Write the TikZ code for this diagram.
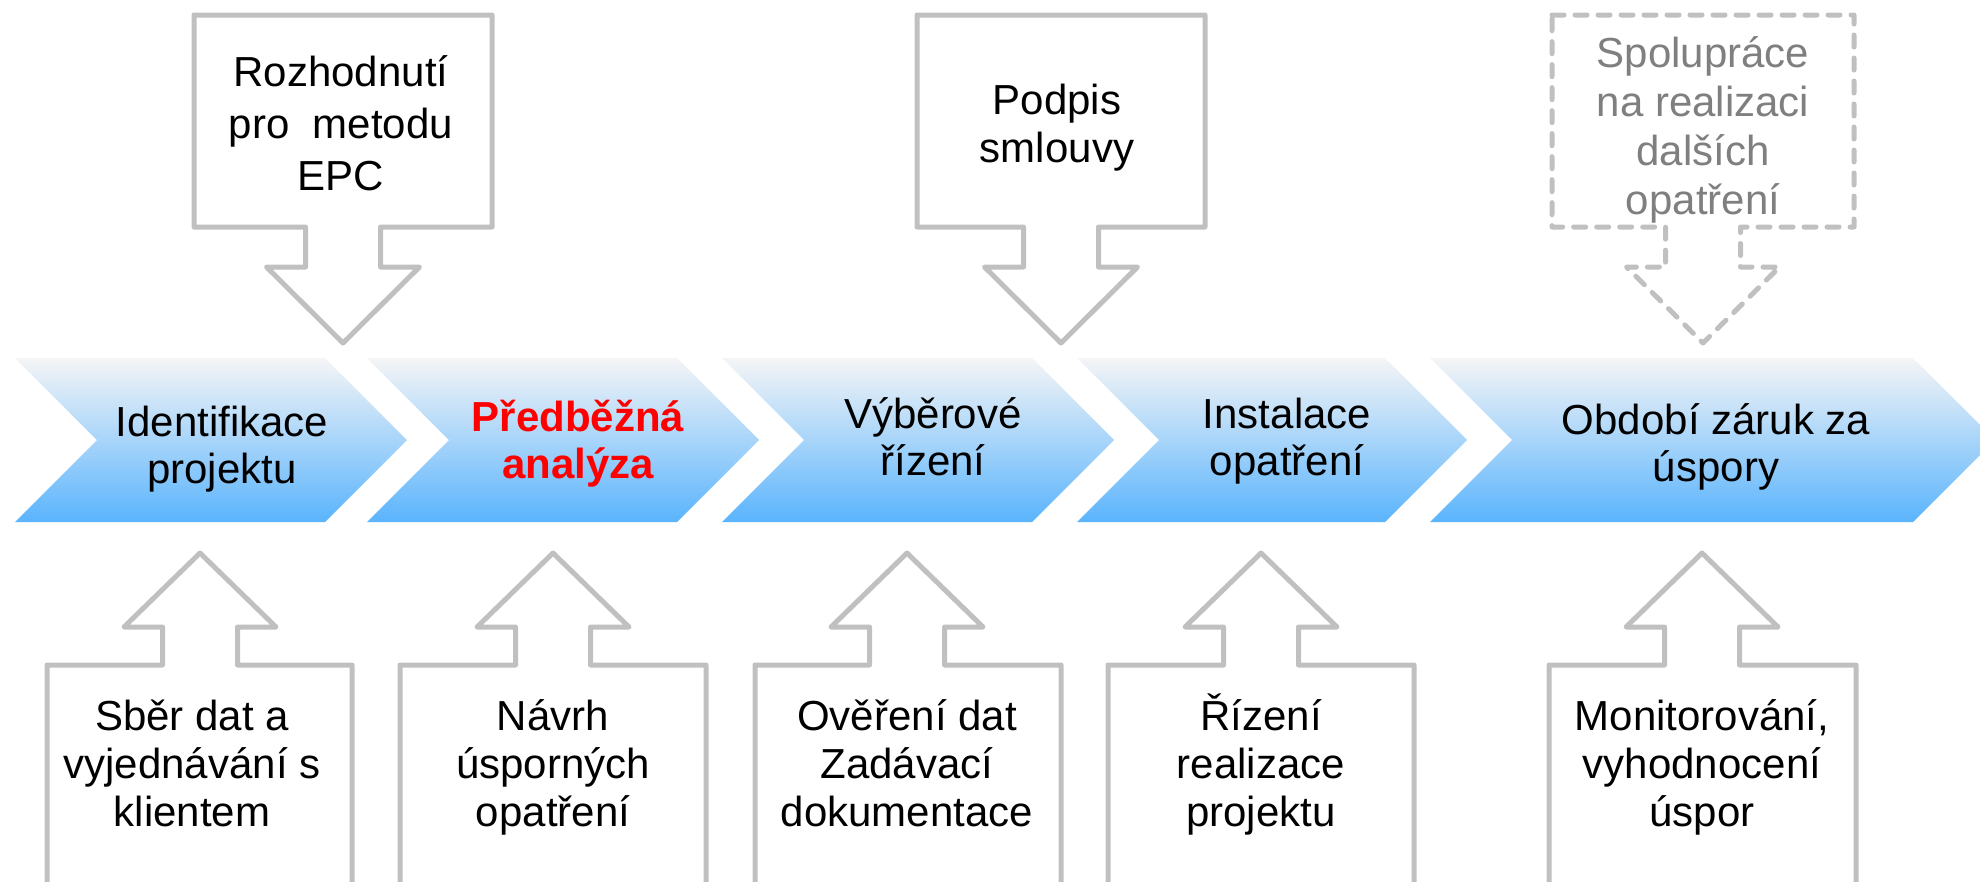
\documentclass[tikz,border=0pt]{standalone}
\usepackage{fontspec}
\setmainfont{Liberation Sans}
\definecolor{lineg}{RGB}{192,192,192}
\definecolor{txtg}{RGB}{127,127,127}
\definecolor{chtop}{RGB}{245,245,246}
\definecolor{chmid}{RGB}{192,223,249}
\definecolor{chbot}{RGB}{90,180,253}
\newcommand\tS{\rule{0pt}{1em}}
\newcommand\bS{\rule[-.25em]{0pt}{.25em}}
\begin{document}
\begin{tikzpicture}[x=1pt,y=-1pt,
  chev/.style={top color=chtop, middle color=chmid, bottom color=chbot, draw=none},
  callout/.style={draw=lineg, line width=5pt, line join=round, fill=white},
  dcallout/.style={callout, dash pattern=on 12pt off 11pt, line cap=round},
  chtext/.style={font=\fontsize{42}{47}\selectfont, align=center, inner sep=0pt},
  rdtext/.style={font={\fontsize{42}{47}\selectfont\bfseries}, text=red, align=center, inner sep=0pt},
  bxtext/.style={font=\fontsize{42}{48}\selectfont, align=center, inner sep=0pt},
  tptext/.style={font=\fontsize{42}{52}\selectfont, align=center, inner sep=0pt},
  gytext/.style={font=\fontsize{42}{49}\selectfont, align=center, inner sep=0pt, text=txtg},
]
\useasboundingbox (0,0) rectangle (1980,881);

% chevrons
\foreach \L/\R in {15/325, 367/677, 722/1032, 1077/1385, 1430/1913}{
  \shade[chev] (\L,358) -- (\R,358) -- (\R+82,440) -- (\R,522) -- (\L,522) -- (\L+82,440) -- cycle;
}

% top callouts
\foreach \c/\xa/\xb/\st in {343/194/492/callout, 1061/917/1205/callout, 1703/1552/1854/dcallout}{
  \draw[\st] (\xa,15) -- (\xb,15) -- (\xb,227) -- (\c+37.5,227) -- (\c+37.5,267) -- (\c+76.5,267)
    -- (\c,343) -- (\c-76.5,267) -- (\c-37.5,267) -- (\c-37.5,227) -- (\xa,227) -- cycle;
}

% bottom callouts (open at the bottom edge)
\foreach \c/\xa/\xb in {200/47/352, 553/400/706, 907/755/1061, 1261/1108/1414, 1702/1549/1856}{
  \draw[callout] (\xa,900) -- (\xa,665) -- (\c-37.5,665) -- (\c-37.5,627) -- (\c-76,627)
    -- (\c,553) -- (\c+76,627) -- (\c+37.5,627) -- (\c+37.5,665) -- (\xb,665) -- (\xb,900);
}

% chevron texts
\node[chtext] (c1) at (222,444) {\tS Identifikace\\projektu\bS};
\node[rdtext] (c2) at (578,439) {\tS Předběžná\\analýza\bS};
\node[chtext] (c3) at (933,436) {\tS Výběrové\\řízení\bS};
\node[chtext] (c4) at (1287,436) {\tS Instalace\\opatření\bS};
\node[chtext] (c5) at (1716,442) {\tS Období záruk za\\úspory\bS};

% top texts
\node[tptext] (t1) at (341,123) {\tS Rozhodnutí\\pro~ metodu\\EPC\bS};
\node[bxtext] (t2) at (1057,123) {\tS Podpis\\smlouvy\bS};
\node[gytext] (t3) at (1703,125) {\tS Spolupráce\\na realizaci\\dalších\\opatření\bS};

% bottom texts
\node[bxtext] (b1) at (192,763) {\tS Sběr dat a\\vyjednávání s\\klientem\bS};
\node[bxtext] (b2) at (553,763) {\tS Návrh\\úsporných\\opatření\bS};
\node[bxtext] (b3) at (907,763) {\tS Ověření dat\\Zadávací\\dokumentace\bS};
\node[bxtext] (b4) at (1261,763) {\tS Řízení\\realizace\\projektu\bS};
\node[bxtext] (b5) at (1702,763) {\tS Monitorování,\\vyhodnocení\\úspor\bS};
\end{tikzpicture}
\end{document}
